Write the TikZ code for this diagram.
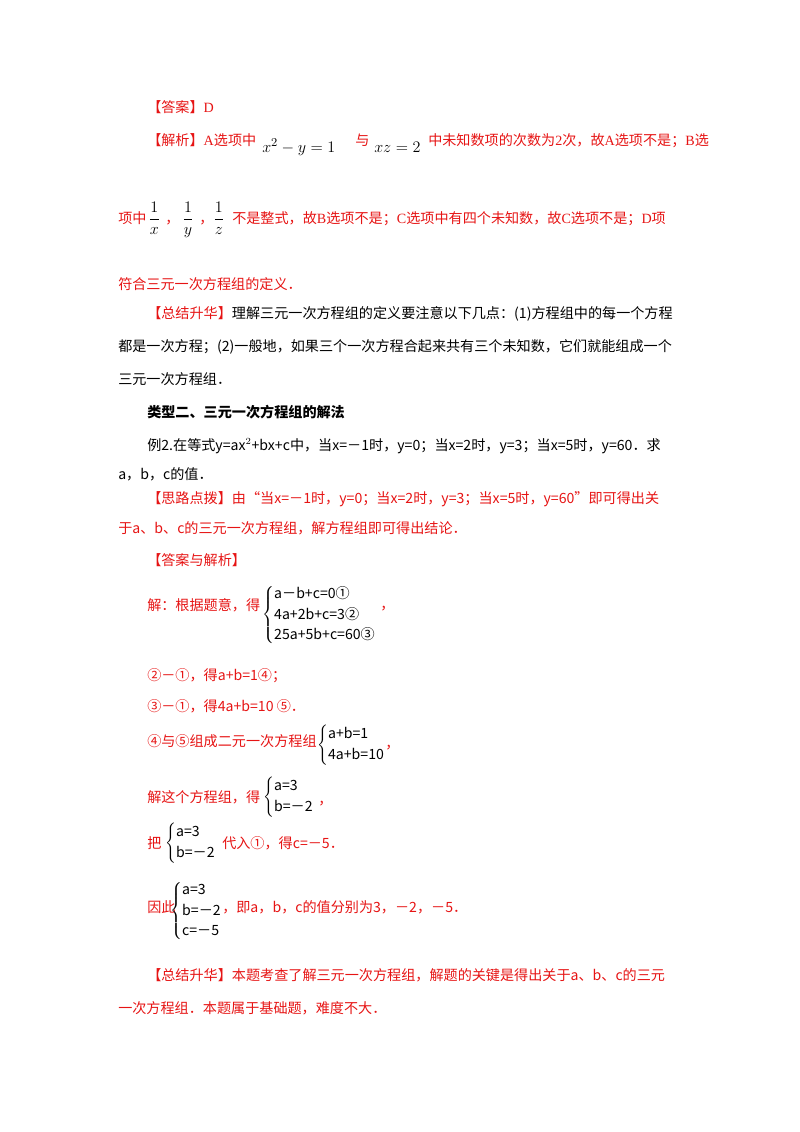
\documentclass[tikz,border=0pt]{standalone}
\usepackage{fontspec}
\setmainfont{Noto Sans CJK SC}
\newfontfamily\latin{Liberation Serif}
\usetikzlibrary{positioning}
\definecolor{ansred}{RGB}{230,20,20}
\tikzset{
  ln/.style={anchor=base west,inner sep=0pt,text=ansred,font=\fontsize{10.5}{12}\selectfont},
  blk/.style={ln,text=black},
  mth/.style={blk,font=\fontsize{13}{15}\selectfont},
  sys/.style={anchor=west,inner sep=0pt,font=\fontsize{10.5}{12}\selectfont}
}
\newcommand{\eqsys}[1]{$\renewcommand{\arraystretch}{1.25}\left\{\begin{array}{@{}l@{}}#1\end{array}\right.$}
\begin{document}
\begin{tikzpicture}[x=0.744pt,y=-0.744pt]
\useasboundingbox (0,0) rectangle (800,1132);
\node[ln] (ans) at (147,112) {【答案】\latin D};
\node[ln] (jx) at (147,145) {【解析】{\latin A}选项中};
\node[mth] (m1) at (262,152) {$x^2-y=1$};
\node[ln] (yu) at (355,145) {与};
\node[mth] (m2) at (374,152) {$xz=2$};
\node[ln] (jx2) at (428,145) {中未知数项的次数为{\latin 2}次，故{\latin A}选项不是；{\latin B}选};
\node[ln] (xz) at (118,223) {项中};
\node[mth] (f1) at (148,223) {$\displaystyle\frac{1}{x}$};
\node[ln] (c1) at (165,223) {，};
\node[mth] (f2) at (182,223) {$\displaystyle\frac{1}{y}$};
\node[ln] (c2) at (199,223) {，};
\node[mth] (f3) at (213,223) {$\displaystyle\frac{1}{z}$};
\node[ln] (bs) at (232,223) {不是整式，故{\latin B}选项不是；{\latin C}选项中有四个未知数，故{\latin C}选项不是；{\latin D}项};
\node[ln] (fh) at (118,289) {符合三元一次方程组的定义．};
\node[ln] (zj) at (147,318) {【总结升华】\textcolor{black}{理解三元一次方程组的定义要注意以下几点：(1)方程组中的每一个方程}};
\node[blk] (dy) at (118,351) {都是一次方程；(2)一般地，如果三个一次方程合起来共有三个未知数，它们就能组成一个};
\node[blk] (sy) at (118,384) {三元一次方程组．};
\node[blk,font=\fontsize{10.5}{12}\selectfont\bfseries] (lx) at (147,417) {类型二、三元一次方程组的解法};
\node[blk] (li) at (147,450) {例2.在等式y=ax$^2$+bx+c中，当x=－1时，y=0；当x=2时，y=3；当x=5时，y=60．求};
\node[blk] (abc) at (118,479) {a，b，c的值．};
\node[ln] (sl) at (147,503) {【思路点拨】由“当x=－1时，y=0；当x=2时，y=3；当x=5时，y=60”即可得出关};
\node[ln] (ya) at (118,533) {于a、b、c的三元一次方程组，解方程组即可得出结论．};
\node[ln] (daj) at (147,565) {【答案与解析】};
\node[ln] (j1) at (147,610) {解：根据题意，得};
\node[sys] (s1) at (262,615) {\eqsys{\mbox{a－b+c=0①}\\\mbox{4a+2b+c=3②}\\\mbox{25a+5b+c=60③}}};
\node[ln] (cm1) at (380,609) {，};
\node[ln] (st2) at (147,680) {②－①，得a+b=1④；};
\node[ln] (st3) at (147,711) {③－①，得4a+b=10 ⑤．};
\node[ln] (st4) at (147,746) {④与⑤组成二元一次方程组};
\node[sys] (s2) at (317,745) {\eqsys{\mbox{a+b=1}\\\mbox{4a+b=10}}};
\node[ln] (cm2) at (385,748) {，};
\node[ln] (st5) at (147,802) {解这个方程组，得};
\node[sys] (s3) at (263,797) {\eqsys{\mbox{a=3}\\\mbox{b=－2}}};
\node[ln] (cm3) at (318,804) {，};
\node[ln] (ba) at (147,848) {把};
\node[sys] (s4) at (165,843) {\eqsys{\mbox{a=3}\\\mbox{b=－2}}};
\node[ln] (dr) at (222,848) {代入①，得c=－5．};
\node[ln] (yc) at (147,912) {因此};
\node[sys] (s5) at (170,911) {\eqsys{\mbox{a=3}\\\mbox{b=－2}\\\mbox{c=－5}}};
\node[ln] (jy) at (222,912) {，即a，b，c的值分别为3，－2，－5．};
\node[ln] (zj2) at (147,980) {【总结升华】本题考查了解三元一次方程组，解题的关键是得出关于a、b、c的三元};
\node[ln] (yc2) at (118,1013) {一次方程组．本题属于基础题，难度不大．};
\end{tikzpicture}
\end{document}
